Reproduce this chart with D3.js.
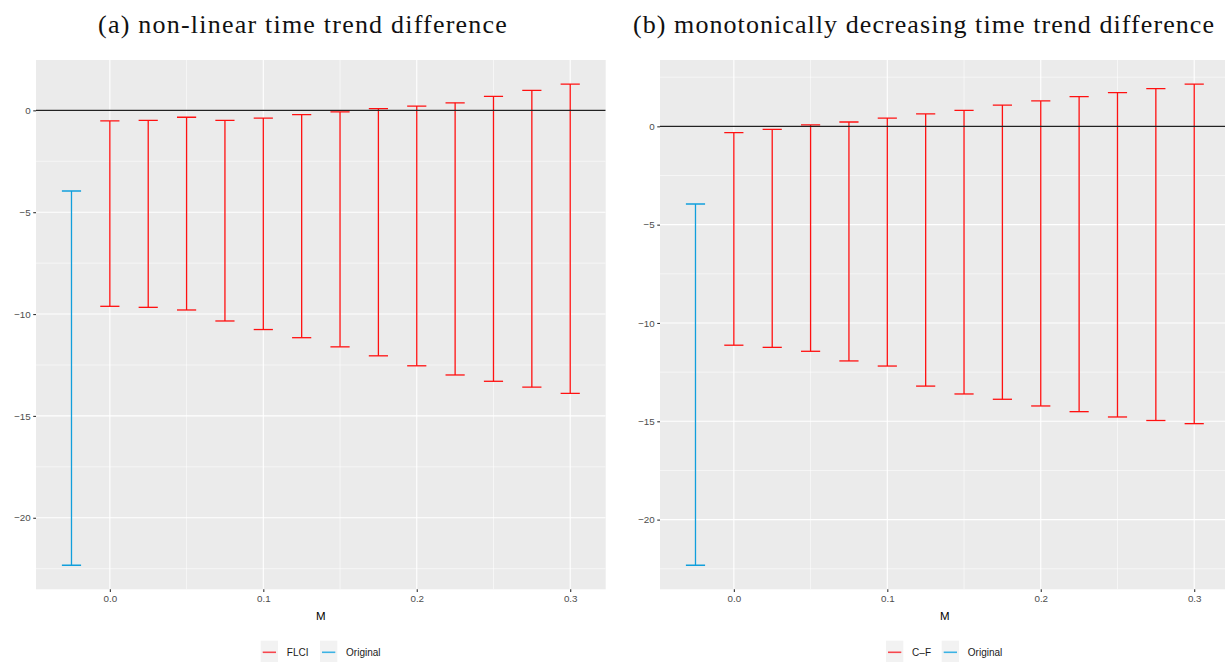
<!DOCTYPE html>
<html>
<head>
<meta charset="utf-8">
<script src="https://cdn.jsdelivr.net/npm/d3@7"></script>
<style>
  html, body { margin: 0; padding: 0; background: #ffffff; }
  svg { display: block; }
</style>
</head>
<body>
<svg id="chart" width="1225" height="662"></svg>
<script>
// ---------- data ----------
const mValues = [0, 0.025, 0.05, 0.075, 0.1, 0.125, 0.15, 0.175, 0.2, 0.225, 0.25, 0.275, 0.3];
const originalM = -0.025;

// panel (a): non-linear time trend difference (FLCI)
const flciUpper = [-0.52, -0.49, -0.34, -0.49, -0.38, -0.21, -0.08, 0.08, 0.21, 0.37, 0.69, 0.98, 1.29];
const flciLower = [-9.62, -9.67, -9.80, -10.34, -10.76, -11.16, -11.61, -12.05, -12.54, -12.99, -13.30, -13.59, -13.89];
const origA = { upper: -3.96, lower: -22.33 };

// panel (b): monotonically decreasing time trend difference (C-F)
const cfUpper = [-0.32, -0.15, 0.07, 0.22, 0.42, 0.63, 0.81, 1.08, 1.29, 1.51, 1.71, 1.92, 2.15];
const cfLower = [-11.13, -11.24, -11.44, -11.93, -12.19, -13.21, -13.61, -13.88, -14.22, -14.51, -14.78, -14.96, -15.12];
const origB = { upper: -3.95, lower: -22.32 };

const xTicks = [0, 0.1, 0.2, 0.3];
const xTickLabels = ["0.0", "0.1", "0.2", "0.3"];
const xMinor = [-0.05, 0.05, 0.15, 0.25, 0.35];
const yTicks = [0, -5, -10, -15, -20];
const yTickLabels = ["0", "\u22125", "\u221210", "\u221215", "\u221220"];
const yMinor = [2.5, -2.5, -7.5, -12.5, -17.5, -22.5];

const titles = ["(a) non-linear time trend difference", "(b) monotonically decreasing time trend difference"];
const legendLabels = [["FLCI", "Original"], ["C\u2013F", "Original"]];

// ---------- styling ----------
const RED = "#ff1010";
const BLUE = "#119fdc";
const RED_KEY = "#f7474e";
const BLUE_KEY = "#3cb3e4";
const errWidth = 0.0125;

const svg = d3.select("#chart");

const panels = [
  { left: 36, right: 605.7, top: 60, bottom: 589.3, upper: flciUpper, lower: flciLower, orig: origA,
    titleCx: 302.5, titleW: 410, legendX: 260.7, legendGap: 59.3 },
  { left: 660, right: 1229.7, top: 60, bottom: 589.3, upper: cfUpper, lower: cfLower, orig: origB,
    titleCx: 923.5, titleW: 582, legendX: 886, legendGap: 55.7 }
];

panels.forEach((p, pi) => {
  const g = svg.append("g");

  const xExt = [originalM - errWidth / 2, d3.max(mValues) + errWidth / 2];
  const xPad = 0.05 * (xExt[1] - xExt[0]);
  const x = d3.scaleLinear().domain([xExt[0] - xPad, xExt[1] + xPad]).range([p.left, p.right]);

  const allY = p.upper.concat(p.lower, [p.orig.upper, p.orig.lower]);
  const yExt = d3.extent(allY);
  const yPad = 0.05 * (yExt[1] - yExt[0]);
  const y = d3.scaleLinear().domain([yExt[0] - yPad, yExt[1] + yPad]).range([p.bottom, p.top]);

  const clipId = "clip" + pi;
  svg.append("clipPath").attr("id", clipId).append("rect")
    .attr("x", p.left).attr("y", p.top).attr("width", p.right - p.left).attr("height", p.bottom - p.top);

  g.append("rect").attr("x", p.left).attr("y", p.top)
    .attr("width", p.right - p.left).attr("height", p.bottom - p.top).attr("fill", "#EBEBEB");

  const grid = g.append("g").attr("clip-path", `url(#${clipId})`);
  grid.selectAll(".ymin").data(yMinor).enter().append("line")
    .attr("x1", p.left).attr("x2", p.right).attr("y1", d => y(d)).attr("y2", d => y(d))
    .attr("stroke", "#ffffff").attr("stroke-width", 0.55);
  grid.selectAll(".xmin").data(xMinor).enter().append("line")
    .attr("y1", p.top).attr("y2", p.bottom).attr("x1", d => x(d)).attr("x2", d => x(d))
    .attr("stroke", "#ffffff").attr("stroke-width", 0.55);
  grid.selectAll(".ymaj").data(yTicks).enter().append("line")
    .attr("x1", p.left).attr("x2", p.right).attr("y1", d => y(d)).attr("y2", d => y(d))
    .attr("stroke", "#ffffff").attr("stroke-width", 1.1);
  grid.selectAll(".xmaj").data(xTicks).enter().append("line")
    .attr("y1", p.top).attr("y2", p.bottom).attr("x1", d => x(d)).attr("x2", d => x(d))
    .attr("stroke", "#ffffff").attr("stroke-width", 1.1);

  // error bars
  const bars = mValues.map((m, i) => ({ m, up: p.upper[i], lo: p.lower[i], col: RED }));
  bars.unshift({ m: originalM, up: p.orig.upper, lo: p.orig.lower, col: BLUE });
  const eb = g.append("g").attr("clip-path", `url(#${clipId})`);
  bars.forEach(b => {
    const gg = eb.append("g").attr("stroke", b.col).attr("stroke-width", 1.3).attr("fill", "none");
    gg.append("line").attr("x1", x(b.m)).attr("x2", x(b.m)).attr("y1", y(b.up)).attr("y2", y(b.lo));
    gg.append("line").attr("x1", x(b.m - errWidth / 2)).attr("x2", x(b.m + errWidth / 2)).attr("y1", y(b.up)).attr("y2", y(b.up));
    gg.append("line").attr("x1", x(b.m - errWidth / 2)).attr("x2", x(b.m + errWidth / 2)).attr("y1", y(b.lo)).attr("y2", y(b.lo));
  });

  eb.append("line").attr("x1", p.left).attr("x2", p.right).attr("y1", y(0)).attr("y2", y(0))
    .attr("stroke", "#222222").attr("stroke-width", 1.2);

  // axes
  const xAxis = d3.axisBottom(x).tickValues(xTicks).tickFormat((d, i) => xTickLabels[i])
    .tickSizeInner(2.75).tickSizeOuter(0).tickPadding(2.5);
  const xa = g.append("g").attr("transform", `translate(0,${p.bottom})`).call(xAxis);
  xa.select(".domain").remove();
  xa.selectAll(".tick line").attr("stroke", "#333333").attr("stroke-width", 1.1);
  xa.selectAll(".tick text").attr("fill", "#4d4d4d").style("font-family", "'Liberation Sans', Arial, sans-serif").style("font-size", "9.8px");

  const yAxis = d3.axisLeft(y).tickValues(yTicks).tickFormat((d, i) => yTickLabels[i])
    .tickSizeInner(2.75).tickSizeOuter(0).tickPadding(2.5);
  const ya = g.append("g").attr("transform", `translate(${p.left},0)`).call(yAxis);
  ya.select(".domain").remove();
  ya.selectAll(".tick line").attr("stroke", "#333333").attr("stroke-width", 1.1);
  ya.selectAll(".tick text").attr("fill", "#4d4d4d").style("font-family", "'Liberation Sans', Arial, sans-serif").style("font-size", "9.8px");

  g.append("text").attr("x", (p.left + p.right) / 2).attr("y", 619.5).attr("text-anchor", "middle")
    .style("font-family", "'Liberation Sans', Arial, sans-serif").style("font-size", "11.5px").attr("fill", "#000")
    .text("M");

  // title: serif, small letter-spacing tuned to match the reference width
  const t = g.append("text").attr("x", p.titleCx).attr("y", 32.5).attr("text-anchor", "middle")
    .style("font-family", "'Liberation Serif', 'DejaVu Serif', serif").style("font-size", "26px").attr("fill", "#111")
    .text(titles[pi]);
  const w = t.node().getComputedTextLength();
  const n = titles[pi].length;
  const ls = (p.titleW - w) / n;
  t.style("letter-spacing", ls.toFixed(3) + "px").attr("x", p.titleCx + ls / 2);

  // legend
  const lg = g.append("g");
  const keys = [RED_KEY, BLUE_KEY];
  let kx = p.legendX;
  keys.forEach((c, k) => {
    lg.append("rect").attr("x", kx).attr("y", 640.7).attr("width", 17.3).attr("height", 23).attr("fill", "#F2F2F2");
    lg.append("line").attr("x1", kx + 2).attr("x2", kx + 15.3).attr("y1", 652.3).attr("y2", 652.3)
      .attr("stroke", c).attr("stroke-width", 1.6);
    lg.append("text").attr("x", kx + 17.3 + 11.3 - 2.5).attr("y", 656)
      .style("font-family", "'Liberation Sans', Arial, sans-serif").style("font-size", "10px").attr("fill", "#1a1a1a")
      .text(legendLabels[pi][k]);
    kx += p.legendGap;
  });
});
</script>
</body>
</html>
